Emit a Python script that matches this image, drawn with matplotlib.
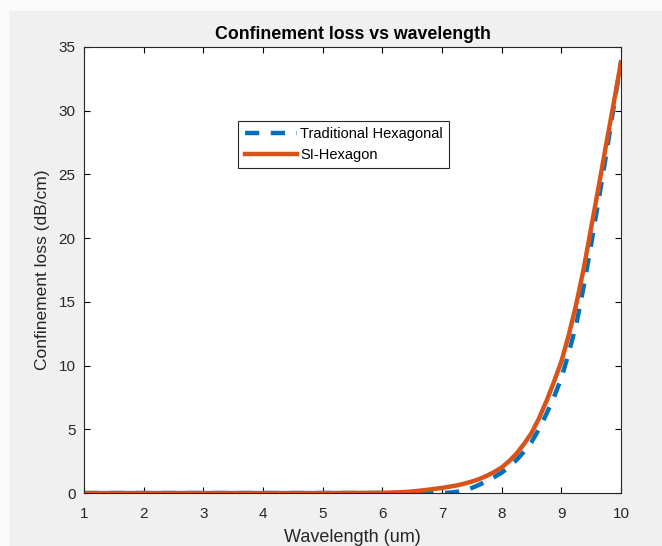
import matplotlib.pyplot as plt
from matplotlib.patches import Rectangle

plt.rcParams["font.family"] = ["Liberation Sans", "DejaVu Sans"]

# confinement loss (dB/cm) against wavelength (um)
wavelength = [1, 1.5, 2, 2.5, 3, 3.5, 4, 4.5, 5, 5.5, 6, 6.25, 6.5, 6.75,
              7, 7.125, 7.25, 7.375, 7.5, 7.625, 7.75, 7.875, 8, 8.125, 8.25, 8.375,
              8.5, 8.625, 8.75, 8.875, 9, 9.125, 9.25, 9.375, 9.5, 9.625, 9.75, 9.875, 10]
loss_traditional = [0, 0, 0, 0, 0, 0, 0, 0, 0, 0, 0, 0, 0, 0,
                    0.0, 0.03, 0.1, 0.22, 0.4, 0.65, 0.95, 1.25, 1.6, 2.05, 2.6, 3.25,
                    4.0, 5.0, 6.2, 7.5, 9.0, 11.0, 13.2, 16.2, 19.5, 23.0, 26.5, 30.2, 33.8]
loss_si = [0, 0, 0, 0, 0, 0, 0, 0, 0, 0.01, 0.02, 0.05, 0.12, 0.25,
           0.4, 0.5, 0.6, 0.74, 0.9, 1.1, 1.35, 1.65, 2.0, 2.5, 3.1, 3.85,
           4.7, 5.85, 7.2, 8.7, 10.3, 12.4, 14.8, 17.6, 20.8, 24.0, 27.3, 30.5, 33.8]

x_ticks = [1, 2, 3, 4, 5, 6, 7, 8, 9, 10]
y_ticks = [0, 5, 10, 15, 20, 25, 30, 35]

fig = plt.figure(figsize=(6.62, 5.46), dpi=100, facecolor="#f0f0f0")
# light border strips along the top and left edge
fig.patches.append(Rectangle((0, 0.982), 1, 0.018, transform=fig.transFigure,
                             color="#fafafa", zorder=-1))
fig.patches.append(Rectangle((0, 0), 0.012, 1, transform=fig.transFigure,
                             color="#fafafa", zorder=-1))

ax = fig.add_axes([0.127, 0.097, 0.811, 0.817])
ax.plot(wavelength, loss_traditional, "--", color="#0072BD", lw=3.2,
        dashes=(3.2, 2.6), label="Traditional Hexagonal")
ax.plot(wavelength, loss_si, "-", color="#D95319", lw=3.2, label="SI-Hexagon")

ax.set_xlim(1, 10)
ax.set_ylim(0, 35)
ax.set_xticks(x_ticks)
ax.set_yticks(y_ticks)
ax.tick_params(direction="in", top=True, right=True, length=4, width=0.8,
               labelsize=11, labelcolor="#262626", pad=6)
ax.tick_params(axis="x", pad=10)
for s in ax.spines.values():
    s.set_linewidth(0.8)
    s.set_color("#262626")

ax.set_title("Confinement loss vs wavelength", fontsize=12.8, fontweight="bold", pad=6)
ax.set_xlabel("Wavelength (um)", fontsize=13, color="#262626", labelpad=6)
ax.set_ylabel("Confinement loss (dB/cm)", fontsize=12.5, color="#262626", labelpad=6)

leg = ax.legend(loc="upper left", bbox_to_anchor=(0.287, 0.835), fontsize=10.5,
                handlelength=3.6, handletextpad=0.2, borderpad=0.45,
                labelspacing=0.45, fancybox=False, framealpha=1, borderaxespad=0)
leg.get_frame().set_edgecolor("#262626")
leg.get_frame().set_linewidth(0.8)

fig.savefig("out.png", dpi=100, facecolor=fig.get_facecolor())
